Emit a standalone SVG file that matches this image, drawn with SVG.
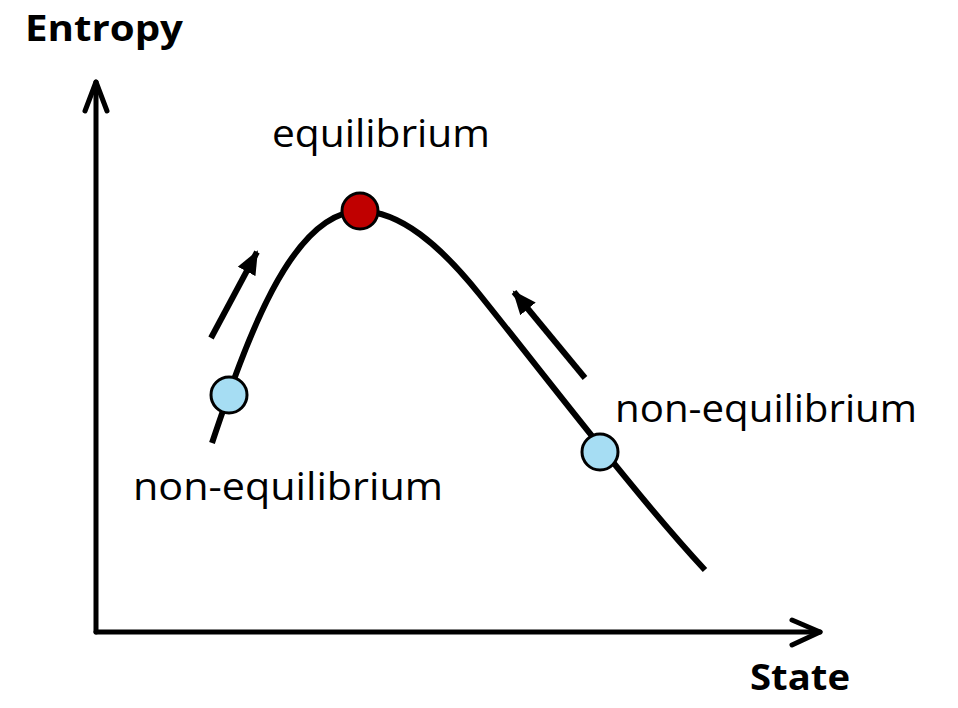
<svg xmlns="http://www.w3.org/2000/svg" width="958" height="708" viewBox="0 0 958 708">
<style>
.axis{fill:none;stroke:#000;stroke-width:5;stroke-linecap:round;stroke-linejoin:round}
.curve{fill:none;stroke:#000;stroke-width:6}
.arr{fill:none;stroke:#000;stroke-width:6}
.lbl{font-family:"Open Sans","Liberation Sans",sans-serif;font-size:38px;fill:#000}
.bold{font-weight:bold;font-size:36px}
.pt{stroke:#000;stroke-width:3}
</style>
<defs>
<marker id="head" markerUnits="userSpaceOnUse" markerWidth="26" markerHeight="26" viewBox="0 0 26 26" refX="22" refY="13" orient="auto">
<path d="M0,3 L24,13 L0,23 Z" fill="#000"/>
</marker>
</defs>
<g id="axes">
<path class="axis" d="M96,632 L96,82"/>
<path class="axis" d="M85,111 L96,82 L107,111"/>
<path class="axis" d="M96,632 L820,632"/>
<path class="axis" d="M792,620 L820,632 L792,645"/>
</g>
<g id="connectors">
<path class="curve" d="M212,443 C245,345 290,212 360,211 C400,211 440,245 480,295 C560,395 640,500 705,570"/>
<line class="arr" x1="211" y1="338" x2="257" y2="252" marker-end="url(#head)"/>
<line class="arr" x1="585" y1="378" x2="514" y2="292" marker-end="url(#head)"/>
</g>
<g id="node-eq">
<circle class="pt" cx="360" cy="211" r="18" fill="#C00000"/>
<text class="lbl" x="272" y="147" textLength="218" lengthAdjust="spacingAndGlyphs">equilibrium</text>
</g>
<g id="node-left">
<circle class="pt" cx="229" cy="395" r="18" fill="#A6DDF3"/>
<text class="lbl" x="133" y="500" textLength="310" lengthAdjust="spacingAndGlyphs">non-equilibrium</text>
</g>
<g id="node-right">
<circle class="pt" cx="600" cy="452" r="18" fill="#A6DDF3"/>
<text class="lbl" x="615" y="422" textLength="302" lengthAdjust="spacingAndGlyphs">non-equilibrium</text>
</g>
<g id="labels">
<text class="lbl bold" x="25" y="41" textLength="158" lengthAdjust="spacingAndGlyphs">Entropy</text>
<text class="lbl bold" x="750" y="690" textLength="100" lengthAdjust="spacingAndGlyphs">State</text>
</g>
</svg>
